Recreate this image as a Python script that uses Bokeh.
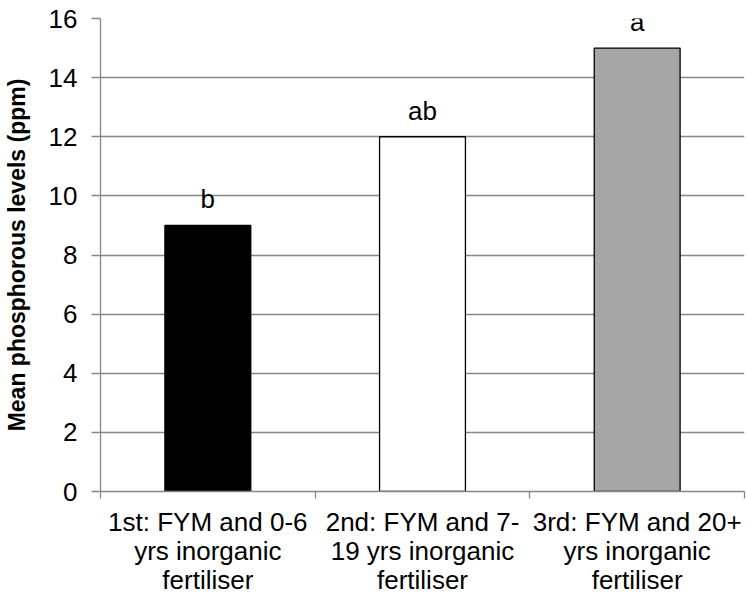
from bokeh.plotting import figure
from bokeh.models import ColumnDataSource, FixedTicker, Range1d, LabelSet
from bokeh.embed import file_html
from bokeh.resources import INLINE
from bokeh.core.properties import value

categories = ["1st: FYM and 0-6\nyrs inorganic\nfertiliser",
              "2nd: FYM and 7-\n19 yrs inorganic\nfertiliser",
              "3rd: FYM and 20+\nyrs inorganic\nfertiliser"]
means = [9, 12, 15]
letters = ["b", "ab", "a"]
fills = ["#000000", "#ffffff", "#a6a6a6"]
y_ticks = [0, 2, 4, 6, 8, 10, 12, 14, 16]

FONT = "Liberation Sans"
GRID = "#878787"

xs = [i + 0.5 for i in range(len(categories))]
src = ColumnDataSource(dict(x=xs, top=means, fill=fills, lab=letters))

p = figure(width=746, height=597, output_backend="svg", toolbar_location=None,
           x_range=Range1d(0, len(categories)), y_range=Range1d(0, 16),
           min_border_left=97, min_border_top=18, min_border_right=2, min_border_bottom=0)
p.outline_line_color = None
p.background_fill_color = "white"

p.vbar(x="x", top="top", bottom=0, width=0.4, source=src,
       fill_color="fill", line_color="black", line_width=1.3)
labels = LabelSet(x="x", y="top", text="lab", source=src, text_align="center",
                  text_baseline="alphabetic", y_offset=17, text_font=value(FONT),
                  text_font_size=value("26px"), text_color=value("black"))
p.add_layout(labels)

p.xgrid.visible = False
p.ygrid.grid_line_color = GRID
p.ygrid.grid_line_width = 1.3
p.ygrid.ticker = FixedTicker(ticks=y_ticks)

ya = p.yaxis[0]
ya.ticker = FixedTicker(ticks=y_ticks)
ya.axis_line_color = GRID
ya.axis_line_width = 1.3
ya.major_tick_line_color = GRID
ya.major_tick_line_width = 1.3
ya.major_tick_out = 9
ya.major_tick_in = 0
ya.minor_tick_line_color = None
ya.major_label_text_font = FONT
ya.major_label_text_font_size = "26px"
ya.major_label_text_color = "black"
ya.major_label_standoff = 14
ya.axis_label = "Mean phosphorous levels (ppm)"
ya.axis_label_text_font = FONT
ya.axis_label_text_font_size = "23px"
ya.axis_label_text_font_style = "bold"
ya.axis_label_text_color = "black"
ya.axis_label_standoff = 16

xa = p.xaxis[0]
xa.ticker = FixedTicker(ticks=xs, minor_ticks=list(range(len(categories) + 1)))
xa.major_label_overrides = {x: c for x, c in zip(xs, categories)}
xa.axis_line_color = GRID
xa.axis_line_width = 1.3
xa.major_tick_line_color = None
xa.minor_tick_line_color = GRID
xa.minor_tick_line_width = 1.3
xa.minor_tick_out = 7
xa.minor_tick_in = 0
xa.major_label_text_font = FONT
xa.major_label_text_font_size = "26px"
xa.major_label_text_color = "black"
xa.major_label_text_line_height = 0.97
xa.major_label_standoff = 8

open("out.html", "w").write(file_html(p, INLINE))
